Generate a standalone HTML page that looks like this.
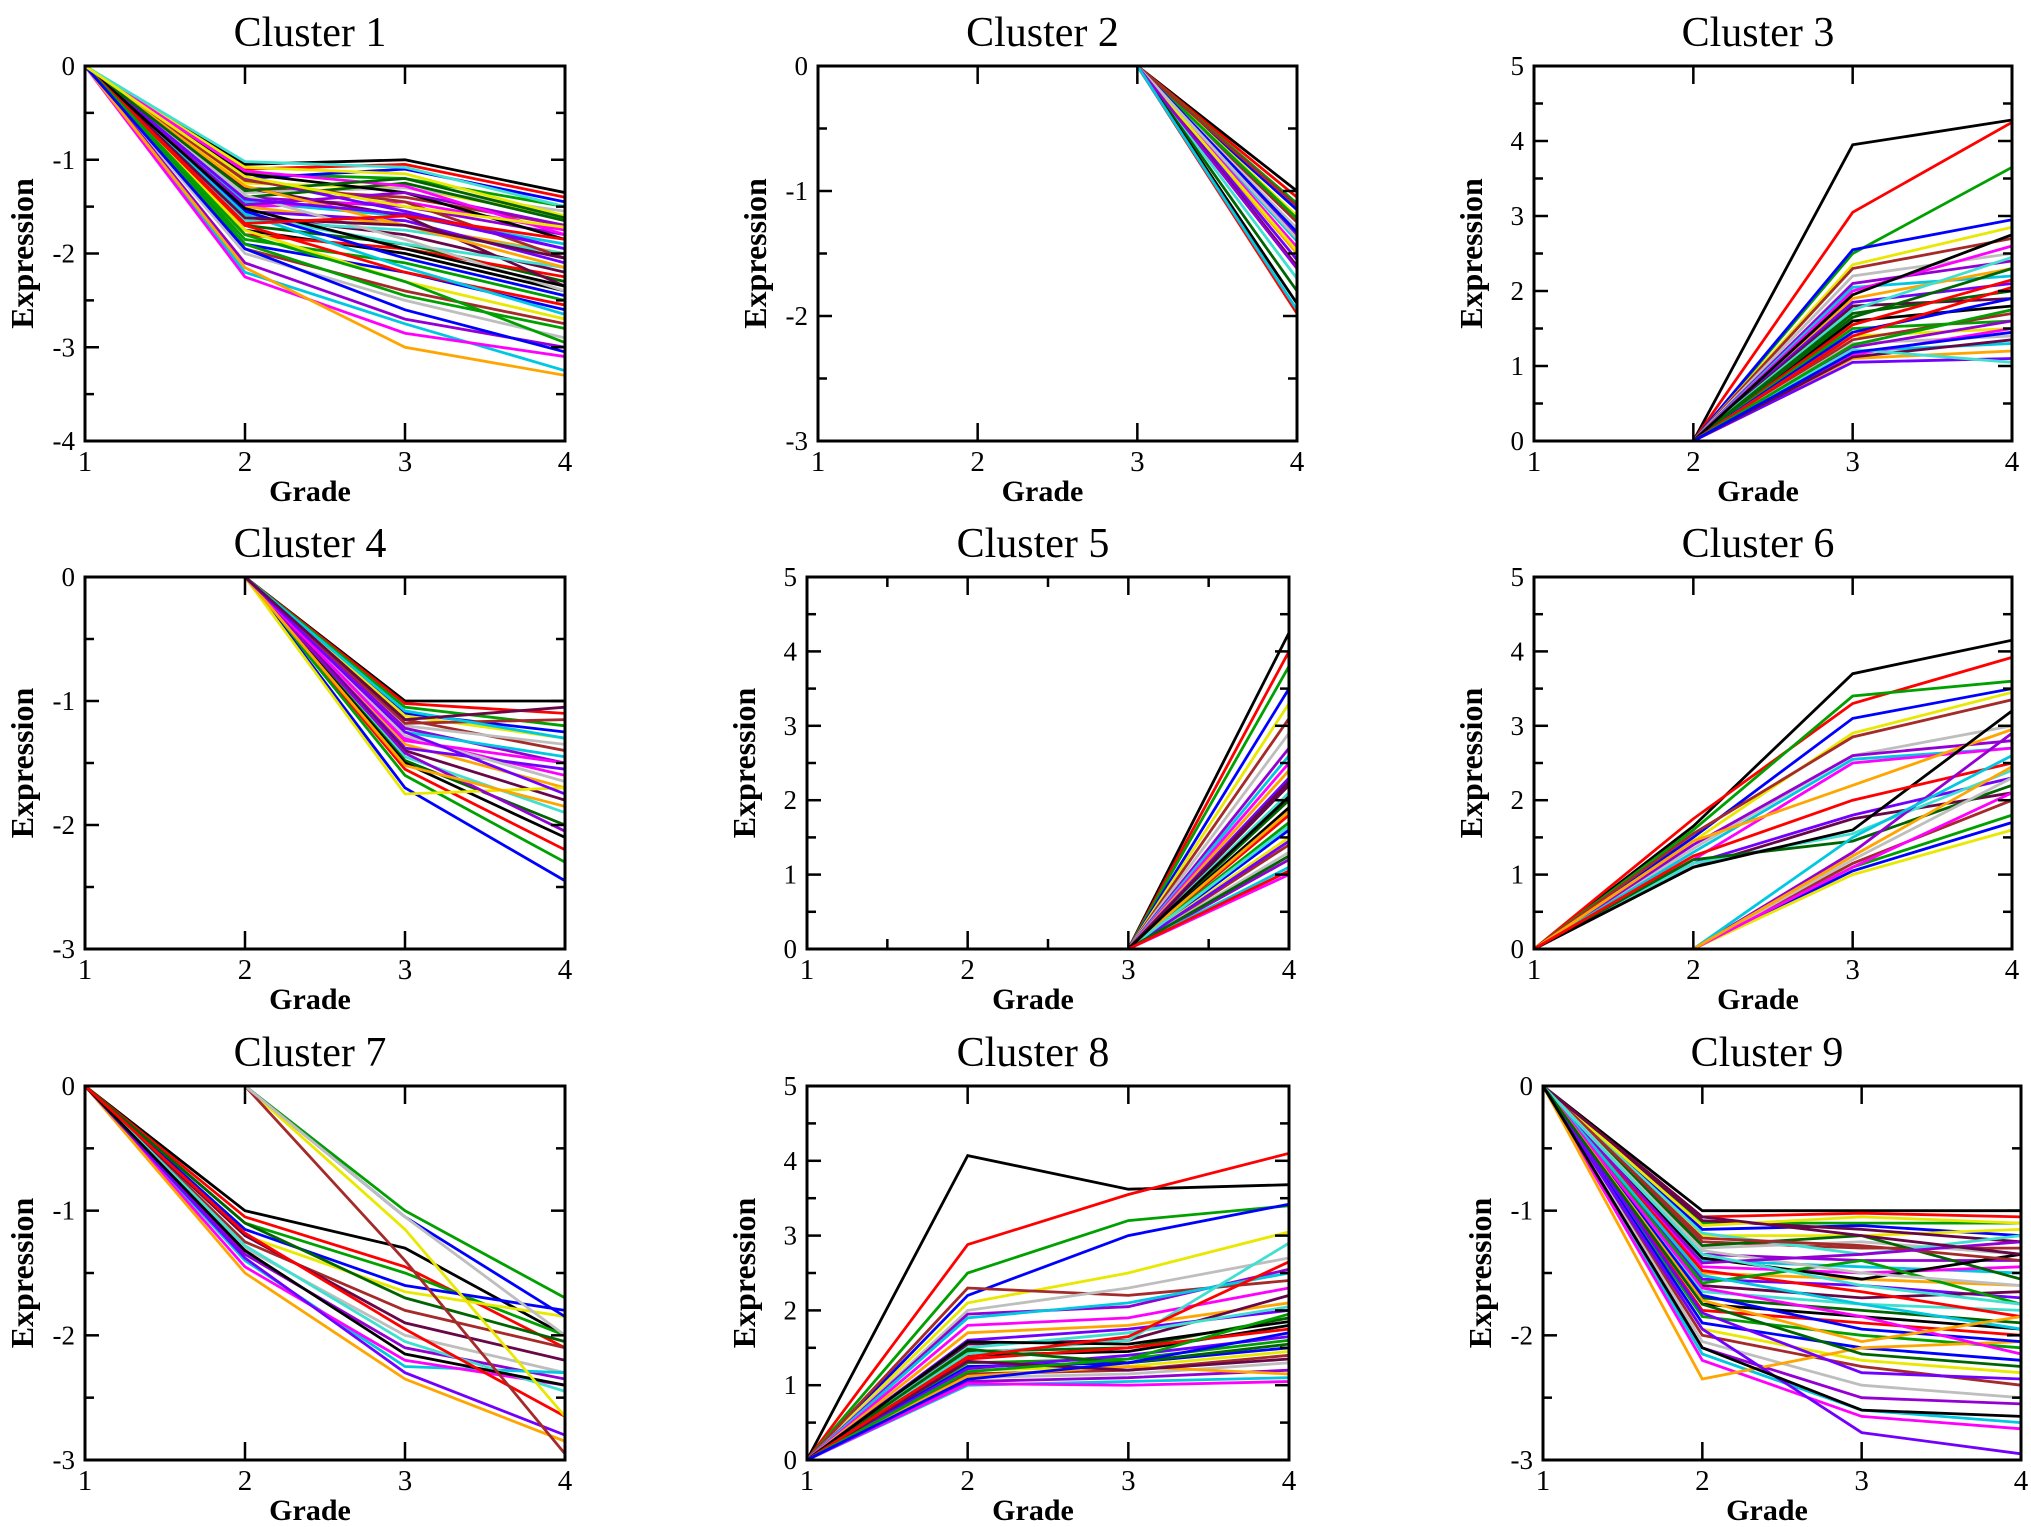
<!DOCTYPE html>
<html><head><meta charset="utf-8"><style>
html,body{margin:0;padding:0;background:#fff;}
svg{display:block;}
</style></head><body>
<svg id="fig" width="2031" height="1527" viewBox="0 0 2031 1527" xmlns="http://www.w3.org/2000/svg"></svg>
<script>
const NS="http://www.w3.org/2000/svg";
const palette=['#000000','#ff0000','#00a000','#0000ff','#e8e800','#a52a2a','#bebebe','#9400d3','#00c8e0','#ff00ff','#ffa500','#7200ff','#670748','#40e0d0','#006400'];
const gradeTicks=[1,2,3,4];
const titles=['Cluster 1','Cluster 2','Cluster 3','Cluster 4','Cluster 5','Cluster 6','Cluster 7','Cluster 8','Cluster 9'];
const yMins=[-4,-3,0,-3,0,0,-3,0,-3];
const yMaxs=[0,0,5,0,5,5,0,5,0];
const c1=[[0,-1.05,-1.0,-1.35],[0,-1.1,-1.05,-1.4],[0,-1.15,-1.2,-1.5],[0,-1.2,-1.1,-1.45],[0,-1.25,-1.3,-1.6],[0,-1.3,-1.4,-1.7],[0,-1.35,-1.3,-1.55],[0,-1.4,-1.5,-1.8],[0,-1.45,-1.6,-1.9],[0,-1.5,-1.45,-1.75],[0,-1.5,-1.7,-2.0],[0,-1.55,-1.65,-2.1],[0,-1.6,-1.8,-2.2],[0,-1.65,-1.75,-2.0],[0,-1.7,-1.9,-2.3],[0,-1.75,-2.0,-2.4],[0,-1.8,-1.95,-2.25],[0,-1.85,-2.1,-2.5],[0,-1.9,-2.2,-2.6],[0,-1.75,-2.3,-2.7],[0,-1.95,-2.4,-2.75],[0,-2.0,-2.5,-2.9],[0,-2.1,-2.7,-3.0],[0,-2.2,-2.75,-3.25],[0,-2.25,-2.85,-3.1],[0,-2.15,-3.0,-3.3],[0,-1.2,-1.55,-1.95],[0,-1.3,-1.6,-2.35],[0,-1.6,-1.9,-2.15],[0,-1.4,-1.25,-1.65],[0,-1.15,-1.35,-1.85],[0,-1.7,-2.2,-2.55],[0,-1.9,-2.45,-2.8],[0,-1.55,-2.05,-2.45],[0,-1.08,-1.15,-1.6],[0,-1.22,-1.45,-2.05],[0,-1.38,-1.85,-2.4],[0,-1.48,-1.35,-1.7],[0,-1.58,-2.15,-2.65],[0,-1.12,-1.28,-1.8],[0,-1.28,-1.7,-2.15],[0,-1.42,-1.58,-1.95],[0,-1.62,-1.7,-2.05],[0,-1.02,-1.08,-1.5],[0,-1.33,-1.2,-1.62],[0,-1.52,-1.95,-2.35],[0,-1.68,-1.6,-1.85],[0,-1.8,-2.3,-2.95],[0,-1.95,-2.6,-3.05],[0,-1.18,-1.5,-1.72]];
const c2=[[0,0,0,-1.0],[0,0,0,-1.05],[0,0,0,-1.1],[0,0,0,-1.15],[0,0,0,-1.2],[0,0,0,-1.25],[0,0,0,-1.3],[0,0,0,-1.35],[0,0,0,-1.4],[0,0,0,-1.45],[0,0,0,-1.5],[0,0,0,-1.55],[0,0,0,-1.6],[0,0,0,-1.7],[0,0,0,-1.8],[0,0,0,-1.9],[0,0,0,-1.98],[0,0,0,-1.22],[0,0,0,-1.33],[0,0,0,-1.48],[0,0,0,-1.12],[0,0,0,-1.38],[0,0,0,-1.62],[0,0,0,-1.95]];
const c3=[[null,0,3.95,4.28],[null,0,3.05,4.25],[null,0,2.5,3.65],[null,0,2.55,2.95],[null,0,2.35,2.85],[null,0,2.3,2.7],[null,0,2.2,2.5],[null,0,2.1,2.4],[null,0,2.05,2.2],[null,0,2.0,2.6],[null,0,1.9,2.3],[null,0,1.85,2.1],[null,0,1.8,1.9],[null,0,1.75,2.45],[null,0,1.7,2.0],[null,0,1.6,1.8],[null,0,1.55,2.15],[null,0,1.5,1.6],[null,0,1.45,1.9],[null,0,1.4,1.5],[null,0,1.35,1.7],[null,0,1.3,1.4],[null,0,1.25,1.6],[null,0,1.2,1.3],[null,0,1.15,1.5],[null,0,1.1,1.2],[null,0,1.05,1.1],[null,0,1.12,1.35],[null,0,1.22,1.05],[null,0,1.65,2.3],[null,0,1.95,2.75],[null,0,1.4,2.05],[null,0,1.28,1.75],[null,0,1.18,1.45]];
const c4=[[null,0,-1.0,-1.0],[null,0,-1.02,-1.1],[null,0,-1.05,-1.2],[null,0,-1.1,-1.25],[null,0,-1.12,-1.3],[null,0,-1.15,-1.4],[null,0,-1.2,-1.35],[null,0,-1.22,-1.5],[null,0,-1.25,-1.45],[null,0,-1.3,-1.6],[null,0,-1.35,-1.7],[null,0,-1.38,-1.55],[null,0,-1.4,-1.8],[null,0,-1.45,-1.9],[null,0,-1.48,-2.0],[null,0,-1.5,-2.1],[null,0,-1.55,-2.2],[null,0,-1.6,-2.3],[null,0,-1.7,-2.45],[null,0,-1.75,-1.7],[null,0,-1.18,-1.15],[null,0,-1.28,-1.65],[null,0,-1.42,-2.05],[null,0,-1.08,-1.3],[null,0,-1.32,-1.5],[null,0,-1.52,-1.85],[null,0,-1.25,-1.75],[null,0,-1.15,-1.05]];
const c5=[[null,null,0,4.25],[null,null,0,4.0],[null,null,0,3.8],[null,null,0,3.5],[null,null,0,3.3],[null,null,0,3.1],[null,null,0,2.9],[null,null,0,2.7],[null,null,0,2.6],[null,null,0,2.5],[null,null,0,2.4],[null,null,0,2.3],[null,null,0,2.2],[null,null,0,2.1],[null,null,0,2.0],[null,null,0,1.9],[null,null,0,1.8],[null,null,0,1.7],[null,null,0,1.6],[null,null,0,1.5],[null,null,0,1.4],[null,null,0,1.3],[null,null,0,1.2],[null,null,0,1.1],[null,null,0,1.0],[null,null,0,1.85],[null,null,0,1.45],[null,null,0,2.25],[null,null,0,1.65],[null,null,0,1.25],[null,null,0,2.05],[null,null,0,1.05]];
const c6=[[0,1.65,3.7,4.15],[0,1.75,3.3,3.92],[0,1.6,3.4,3.6],[0,1.5,3.1,3.5],[0,1.45,2.9,3.45],[0,1.55,2.85,3.35],[0,1.35,2.6,3.0],[0,1.4,2.6,2.8],[0,1.3,2.55,2.7],[0,1.2,2.5,2.7],[0,1.45,2.2,2.95],[0,1.15,1.8,2.3],[0,1.1,1.75,2.1],[0,1.15,1.55,2.4],[0,1.2,1.45,2.2],[0,1.1,1.6,3.2],[0,1.25,2.0,2.5],[null,0,1.1,1.8],[null,0,1.05,1.7],[null,0,1.0,1.6],[null,0,1.15,2.0],[null,0,1.2,2.3],[null,0,1.3,2.9],[null,0,1.5,2.6],[null,0,1.1,2.1],[null,0,1.25,2.45]];
const c7=[[0,-1.0,-1.3,-2.0],[0,-1.05,-1.45,-2.1],[0,-1.1,-1.5,-2.0],[0,-1.15,-1.6,-1.8],[0,-1.2,-1.65,-1.85],[0,-1.25,-1.8,-2.1],[0,-1.3,-2.0,-2.3],[0,-1.35,-2.1,-2.35],[0,-1.4,-2.25,-2.3],[0,-1.45,-2.2,-2.4],[0,-1.5,-2.35,-2.85],[0,-1.38,-2.3,-2.8],[0,-1.2,-1.9,-2.2],[0,-1.28,-2.05,-2.45],[0,-1.1,-1.7,-2.05],[0,-1.32,-2.15,-2.4],[0,-1.18,-1.95,-2.65],[null,0,-1.0,-1.7],[null,0,-1.05,-1.85],[null,0,-1.15,-2.65],[null,0,-1.4,-2.95],[null,0,-1.05,-2.0]];
const c8=[[0,4.07,3.62,3.68],[0,2.88,3.55,4.1],[0,2.5,3.2,3.4],[0,2.2,3.0,3.42],[0,2.1,2.5,3.05],[0,2.3,2.2,2.4],[0,2.0,2.3,2.7],[0,1.95,2.05,2.55],[0,1.9,2.1,2.5],[0,1.8,1.9,2.3],[0,1.7,1.8,2.1],[0,1.6,1.75,2.0],[0,1.55,1.6,2.2],[0,1.5,1.7,2.05],[0,1.45,1.5,1.9],[0,1.4,1.45,1.8],[0,1.35,1.5,1.75],[0,1.3,1.35,1.6],[0,1.25,1.3,1.5],[0,1.2,1.25,1.45],[0,1.15,1.2,1.4],[0,1.1,1.15,1.3],[0,1.05,1.1,1.2],[0,1.0,1.05,1.1],[0,1.02,1.0,1.05],[0,1.12,1.25,1.15],[0,1.22,1.4,1.65],[0,1.32,1.2,1.35],[0,1.42,1.6,2.9],[0,1.48,1.3,1.55],[0,1.58,1.55,1.85],[0,1.38,1.65,2.65],[0,1.18,1.35,1.95],[0,1.08,1.3,1.7]];
const c9=[[0,-1.0,-1.0,-1.0],[0,-1.05,-1.02,-1.05],[0,-1.1,-1.1,-1.1],[0,-1.15,-1.12,-1.2],[0,-1.2,-1.2,-1.15],[0,-1.25,-1.3,-1.3],[0,-1.3,-1.25,-1.35],[0,-1.35,-1.4,-1.4],[0,-1.4,-1.45,-1.5],[0,-1.45,-1.5,-1.45],[0,-1.5,-1.55,-1.6],[0,-1.55,-1.6,-1.7],[0,-1.6,-1.7,-1.65],[0,-1.65,-1.75,-1.8],[0,-1.7,-1.8,-1.9],[0,-1.75,-1.85,-1.95],[0,-1.8,-1.9,-2.0],[0,-1.85,-2.0,-2.1],[0,-1.9,-2.1,-2.2],[0,-1.95,-2.2,-2.3],[0,-2.0,-2.25,-2.4],[0,-2.05,-2.4,-2.5],[0,-2.1,-2.5,-2.55],[0,-2.15,-2.6,-2.7],[0,-2.2,-2.65,-2.75],[0,-2.35,-2.1,-2.05],[0,-1.95,-2.78,-2.95],[0,-1.08,-1.15,-1.25],[0,-1.18,-1.35,-1.2],[0,-1.28,-1.2,-1.55],[0,-1.38,-1.55,-1.35],[0,-1.48,-1.65,-1.85],[0,-1.58,-1.4,-1.75],[0,-1.68,-1.95,-2.05],[0,-1.12,-1.05,-1.1],[0,-1.22,-1.28,-1.4],[0,-1.32,-1.5,-1.6],[0,-1.42,-1.35,-1.25],[0,-1.52,-1.75,-1.95],[0,-1.62,-1.85,-2.15],[0,-1.72,-2.05,-1.85],[0,-1.82,-2.3,-2.35],[0,-1.05,-1.2,-1.35],[0,-1.35,-1.6,-1.75],[0,-1.75,-2.15,-2.25],[0,-2.1,-2.6,-2.65]];
const clusterData=[c1,c2,c3,c4,c5,c6,c7,c8,c9];
const lefts=[85,818,1534,85,807,1534,85,807,1543];
const rights=[565,1297,2012,565,1289,2012,565,1289,2021];
const tops=[66,66,66,577,577,577,1086,1086,1086];
const bottoms=[441,441,441,949,949,949,1460,1460,1460];
const svg=document.getElementById('fig');
function mk(tag,attrs,parent){const e=document.createElementNS(NS,tag);for(const k in attrs)e.setAttribute(k,attrs[k]);(parent||svg).appendChild(e);return e;}
for(let i=0;i<9;i++){
  const L=lefts[i],R=rights[i],T=tops[i],B=bottoms[i],ymin=yMins[i],ymax=yMaxs[i];
  const xs=v=>L+(v-1)/3*(R-L);
  const ys=v=>B-(v-ymin)/(ymax-ymin)*(B-T);
  const g=mk('g',{});
  
  
  const clip=mk('clipPath',{id:'cp'+i},g);
  mk('rect',{x:L,y:T,width:R-L,height:B-T},clip);
  const lines=mk('g',{'clip-path':'url(#cp'+i+')'},g);
  
  
  clusterData[i].forEach((row,j)=>{
    const pts=[];row.forEach((v,k)=>{if(v!==null)pts.push(xs(gradeTicks[k]).toFixed(1)+','+ys(v).toFixed(1));});
    const pl=mk('polyline',{points:pts.join(' '),fill:'none',stroke:palette[j%palette.length],'stroke-width':2.8},lines);
    
    
  });
  const frame=mk('rect',{x:L,y:T,width:R-L,height:B-T,fill:'none',stroke:'#000','stroke-width':3},g);
  
  
  gradeTicks.forEach(t=>{
    const x=xs(t);
    if(t>1&&t<4){mk('line',{x1:x,y1:B,x2:x,y2:B-18,stroke:'#000','stroke-width':2.5},g);mk('line',{x1:x,y1:T,x2:x,y2:T+18,stroke:'#000','stroke-width':2.5},g);}
    const tl=mk('text',{x:x,y:B+30,'text-anchor':'middle','font-family':'Liberation Serif, serif','font-size':29},g);
    tl.textContent=t;
    
    
  });
  if(i===4){[1.5,2.5,3.5].forEach(t=>{const x=xs(t);mk('line',{x1:x,y1:B,x2:x,y2:B-10,stroke:'#000','stroke-width':2.5},g);mk('line',{x1:x,y1:T,x2:x,y2:T+10,stroke:'#000','stroke-width':2.5},g);});}
  for(let v=ymin;v<=ymax+1e-9;v+=0.5){
    const y=ys(v);const major=Math.abs(v-Math.round(v))<1e-9;const len=major?14:9;
    if(v>ymin&&v<ymax){mk('line',{x1:L,y1:y,x2:L+len,y2:y,stroke:'#000','stroke-width':2.5},g);mk('line',{x1:R,y1:y,x2:R-len,y2:y,stroke:'#000','stroke-width':2.5},g);}
    if(major){const tl=mk('text',{x:L-10,y:y+9,'text-anchor':'end','font-family':'Liberation Serif, serif','font-size':27},g);tl.textContent=Math.round(v);
      
      }
  }
  const tt=mk('text',{x:(L+R)/2-15,y:T-20,'text-anchor':'middle','font-family':'Liberation Serif, serif','font-size':42},g);
  tt.textContent=titles[i];
  
  
  const xt=mk('text',{x:(L+R)/2-15,y:B+60,'text-anchor':'middle','font-family':'Liberation Serif, serif','font-size':30,'font-weight':'bold'},g);
  xt.textContent='Grade';
  
  
  const cx=L-52,cy=(T+B)/2;
  const yt=mk('text',{x:cx,y:cy,'text-anchor':'middle','font-family':'Liberation Serif, serif','font-size':32,'font-weight':'bold',transform:'rotate(-90 '+cx+' '+cy+')'},g);
  yt.textContent='Expression';
  
  
}
</script>
</body></html>
